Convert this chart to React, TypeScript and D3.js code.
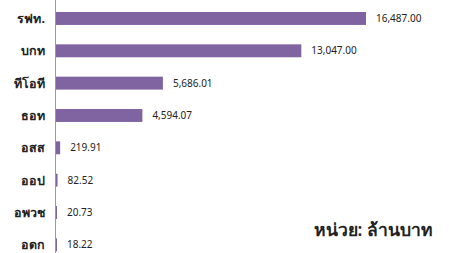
import * as d3 from "d3";
import React, { useRef, useEffect } from "react";

const categories = ["รฟท.", "บกท", "ทีโอที", "ธอท", "อสส", "ออป", "อพวช", "อดก"];
const values = [16487.0, 13047.0, 5686.01, 4594.07, 219.91, 82.52, 20.73, 18.22];
const unitLabel = "หน่วย: ล้านบาท";

const W = 449;
const H = 253;

const App = () => {
  const ref = useRef<SVGSVGElement>(null);

  useEffect(() => {
    const svg = d3.select(ref.current);
    svg.selectAll("*").remove();

    const x0 = 56;
    const xScale = d3.scaleLinear().domain([0, 16487]).range([x0, 366]);
    const yScale = d3
      .scaleBand<string>()
      .domain(categories)
      .range([2.3, 261])
      .paddingInner(0.6)
      .paddingOuter(0.3);

    const data = categories.map((c, i) => ({ c, v: values[i] }));
    const font = "'Noto Sans', 'Open Sans', sans-serif";

    svg
      .append("g")
      .selectAll("rect")
      .data(data)
      .enter()
      .append("rect")
      .attr("x", x0)
      .attr("y", (d) => yScale(d.c)!)
      .attr("width", (d) => Math.max(1, xScale(d.v) - x0))
      .attr("height", yScale.bandwidth())
      .attr("fill", "#8064A2");

    svg
      .append("line")
      .attr("x1", x0 - 0.5)
      .attr("x2", x0 - 0.5)
      .attr("y1", 0)
      .attr("y2", H)
      .attr("stroke", "#9a9a9a")
      .attr("stroke-width", 1);

    svg
      .append("g")
      .selectAll("text")
      .data(data)
      .enter()
      .append("text")
      .attr("x", 45)
      .attr("y", (d) => yScale(d.c)! + yScale.bandwidth() / 2)
      .attr("dy", "0.35em")
      .attr("text-anchor", "end")
      .attr("font-family", font)
      .attr("font-size", 12.5)
      .attr("font-weight", "bold")
      .attr("fill", "#222")
      .text((d) => d.c);

    svg
      .append("g")
      .selectAll("text")
      .data(data)
      .enter()
      .append("text")
      .attr("x", (d) => Math.max(xScale(d.v), x0 + 1) + 10)
      .attr("y", (d) => yScale(d.c)! + yScale.bandwidth() / 2)
      .attr("dy", "0.35em")
      .attr("font-family", font)
      .attr("font-size", 10)
      .attr("fill", "#222")
      .text((d) => d3.format(",.2f")(d.v));

    svg
      .append("text")
      .attr("x", 433)
      .attr("y", 236)
      .attr("text-anchor", "end")
      .attr("font-family", font)
      .attr("font-size", 17.5)
      .attr("font-weight", 600)
      .attr("fill", "#222")
      .text(unitLabel);
  }, []);

  return (
    <svg
      ref={ref}
      width={W}
      height={H}
      style={{ position: "absolute", left: 0, top: 0, background: "#fff" }}
    />
  );
};

export default App;
